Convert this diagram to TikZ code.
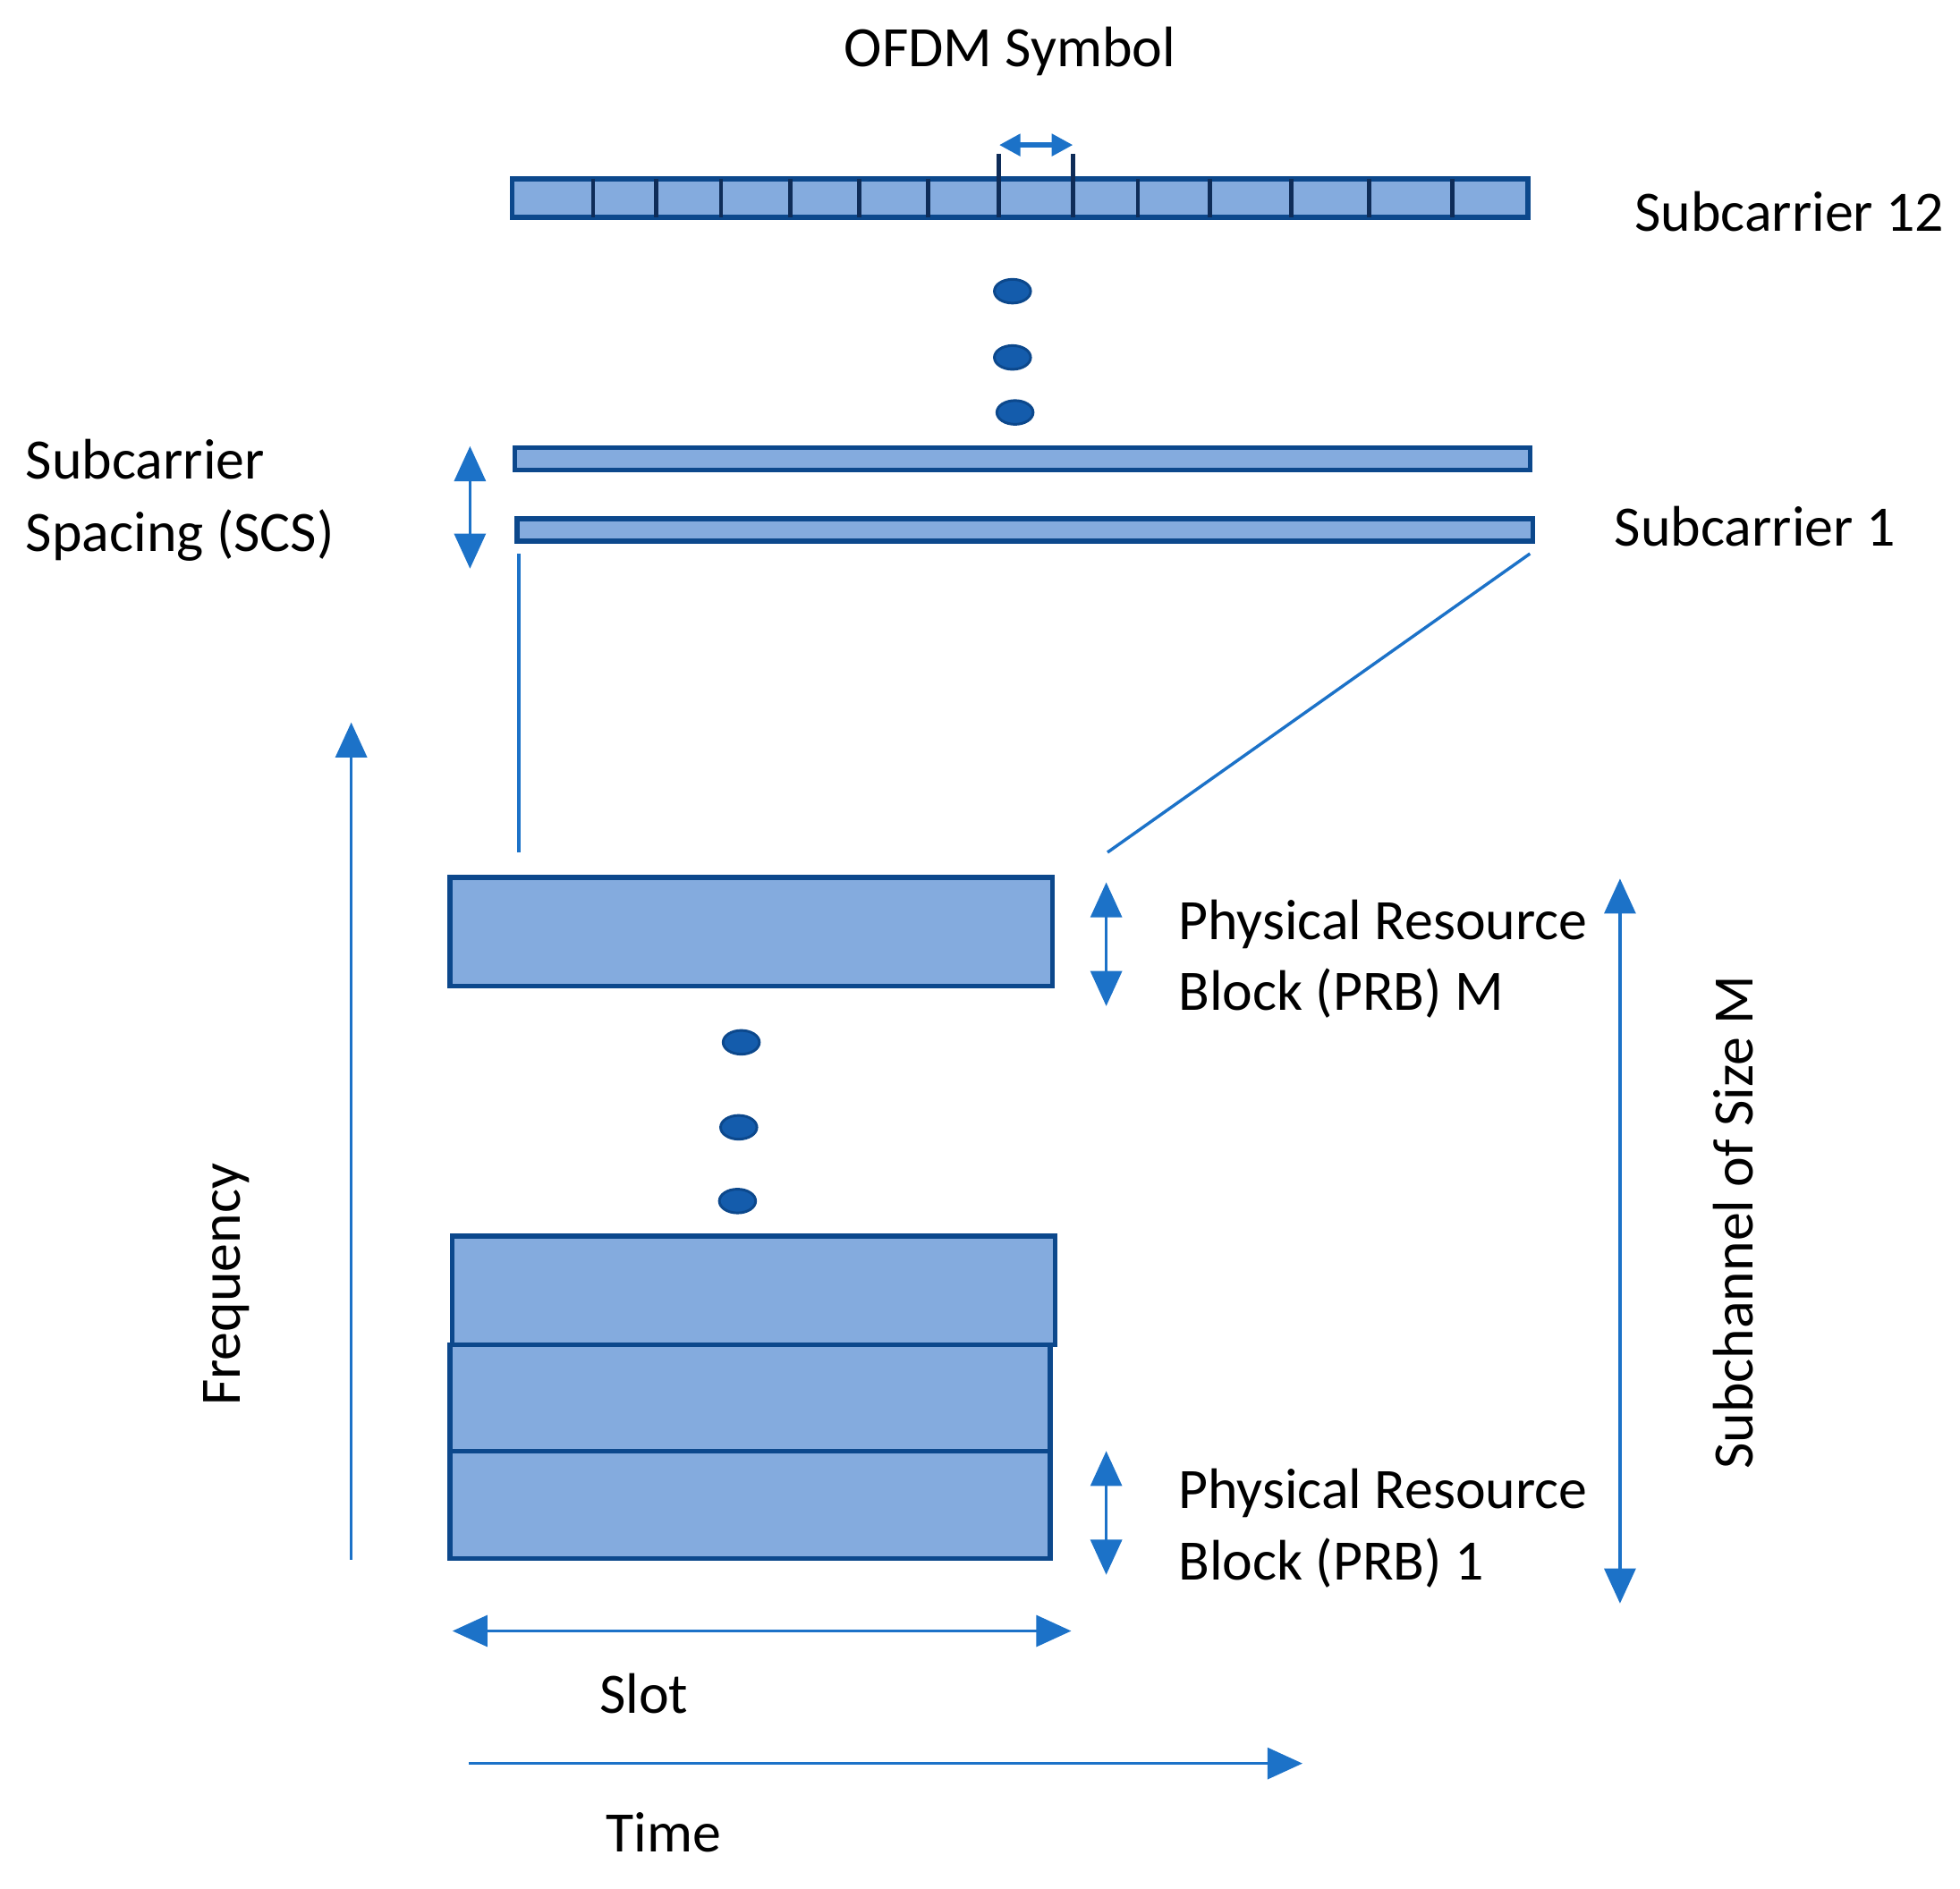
\documentclass[tikz,border=0pt]{standalone}
\usepackage{fontspec}
\setmainfont{Carlito}
\usetikzlibrary{arrows.meta,shapes.geometric}
\definecolor{cellfill}{RGB}{132,171,222}
\definecolor{celledge}{RGB}{12,72,140}
\definecolor{arrowblue}{RGB}{28,114,200}
\definecolor{divnavy}{RGB}{14,44,88}
\definecolor{dotblue}{RGB}{20,92,172}

\begin{document}
\begin{tikzpicture}[x=0.01cm, y=-0.01cm,
                    cellbox/.style={rectangle, draw=celledge, fill=cellfill, line width=1.1pt, inner sep=0pt, outer sep=0pt},
                    dotnode/.style={ellipse, draw=celledge, fill=dotblue, line width=0.6pt, minimum width=0.29cm, minimum height=0.19cm, inner sep=0pt},
                    dimarrow/.style={arrowblue, line width=0.7pt, {Triangle[width=0.25cm,length=0.28cm]}-{Triangle[width=0.25cm,length=0.28cm]}},
                    axisarrow/.style={arrowblue, line width=0.7pt, -{Triangle[width=0.25cm,length=0.28cm]}},
                    zoomline/.style={arrowblue, line width=0.7pt},
                    divider/.style={divnavy, line width=1pt},
                    lbl/.style={font=\fontsize{13pt}{16pt}\selectfont, inner sep=0pt}]
    \useasboundingbox (0,0) rectangle (1568,1511);
    % subcarriers
    \node[cellbox, minimum width=8.12cm, minimum height=0.31cm] (sc12) at (816,158.5) {};
    \node[cellbox, minimum width=8.12cm, minimum height=0.18cm] (sc2)  at (818,367)   {};
    \node[cellbox, minimum width=8.12cm, minimum height=0.18cm] (sc1)  at (820,424)   {};
    \foreach \xd in {474.5,524.8,576.8,632.5,687.2,742.5,799.3,858.4,910.3,967.7,1033.3,1095.1,1161.8}
        \draw[divider] (\xd,0 |- sc12.north) -- (\xd,0 |- sc12.south);
    % OFDM symbol bracket
    \coordinate (symL) at (799.3,123);
    \coordinate (symR) at (858.4,123);
    \draw[divider] (symL) -- (symL |- sc12.north);
    \draw[divider] (symR) -- (symR |- sc12.north);
    \coordinate (symLa) at (799.3,116);
    \coordinate (symRa) at (858.4,116);
    \draw[arrowblue, line width=1.2pt, {Triangle[width=0.17cm,length=0.17cm]}-{Triangle[width=0.17cm,length=0.17cm]}] (symLa) -- (symRa);
    % dots
    \node[dotnode] (d1) at (810,233) {};
    \node[dotnode] (d2) at (810,286) {};
    \node[dotnode] (d3) at (812,330) {};
    \node[dotnode] (d4) at (593,834) {};
    \node[dotnode] (d5) at (591,902) {};
    \node[dotnode] (d6) at (590,961) {};
    % PRBs
    \node[cellbox, minimum width=4.82cm, minimum height=0.87cm] (prbM) at (601,745.5)  {};
    \node[cellbox, minimum width=4.82cm, minimum height=0.87cm] (prbC) at (603,1032.5) {};
    \node[cellbox, minimum width=4.80cm, minimum height=0.85cm] (prbB) at (600,1118.5) {};
    \node[cellbox, minimum width=4.80cm, minimum height=0.86cm] (prbA) at (600,1204)   {};
    % zoom lines
    \coordinate (zlA) at (415,443);
    \coordinate (zlB) at (415,682);
    \coordinate (zrA) at (1224,443);
    \coordinate (zrB) at (886,682);
    \draw[zoomline] (zlA) -- (zlB);
    \draw[zoomline] (zrA) -- (zrB);
    % arrows
    \coordinate (scsT) at (376,357);   \coordinate (scsB) at (376,455);
    \coordinate (prbMT) at (885,706);  \coordinate (prbMB) at (885,805);
    \coordinate (prbAT) at (885,1161); \coordinate (prbAB) at (885,1260);
    \coordinate (subT) at (1296,703);  \coordinate (subB) at (1296,1283);
    \coordinate (slotL) at (362,1305); \coordinate (slotR) at (857,1305);
    \coordinate (timeL) at (375,1411); \coordinate (timeR) at (1042,1411);
    \coordinate (freqB) at (281,1248); \coordinate (freqT) at (281,578);
    \draw[dimarrow] (scsT) -- (scsB);
    \draw[dimarrow] (prbMT) -- (prbMB);
    \draw[dimarrow] (prbAT) -- (prbAB);
    \draw[dimarrow] (subT) -- (subB);
    \draw[dimarrow] (slotL) -- (slotR);
    \draw[axisarrow] (timeL) -- (timeR);
    \draw[axisarrow] (freqB) -- (freqT);
    % labels
    \node[lbl, anchor=base]      (ofdmlbl) at (808,53)   {OFDM Symbol};
    \node[lbl, anchor=base west] (sc12lbl) at (1307,185) {Subcarrier 12};
    \node[lbl, anchor=base west] (sc1lbl)  at (1291,437) {Subcarrier 1};
    \node[lbl, anchor=base west] (scslbl)  at (20,383)   {Subcarrier};
    \node[lbl, anchor=base west] (scslblb) at (20,441)   {Spacing (SCS)};
    \node[lbl, anchor=base west] (prbMlbl) at (942,752)  {Physical Resource};
    \node[lbl, anchor=base west] (prbMlblb) at (942,808) {Block (PRB) M};
    \node[lbl, anchor=base west] (prbAlbl) at (942,1207) {Physical Resource};
    \node[lbl, anchor=base west] (prbAlblb) at (942,1264) {Block (PRB) 1};
    \node[lbl, anchor=base]      (slotlbl) at (515,1371) {Slot};
    \node[lbl, anchor=base]      (timelbl) at (531,1482) {Time};
    \node[lbl, anchor=base, rotate=90] (freqlbl) at (192,1028) {Frequency};
    \node[lbl, anchor=base, rotate=90] (sublbl)  at (1402,978) {Subchannel of Size M};
\end{tikzpicture}
\end{document}
